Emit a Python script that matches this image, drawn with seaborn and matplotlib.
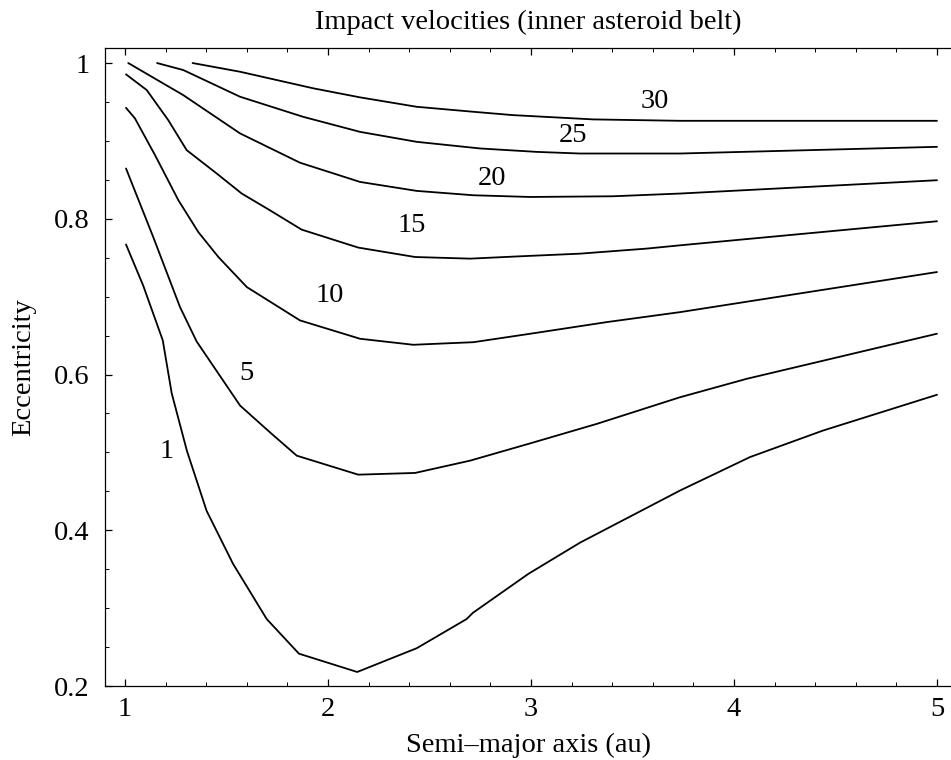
import numpy as np
import pandas as pd
import matplotlib
matplotlib.use("Agg")
import matplotlib.pyplot as plt
from matplotlib.ticker import MultipleLocator
import seaborn as sns

# ---- data ----
levels = [1, 5, 10, 15, 20, 25, 30]

a_1 = [1.005, 1.09, 1.186, 1.23, 1.305, 1.402, 1.532, 1.698, 1.857, 2.144, 2.355, 2.437, 2.683, 2.714, 2.987, 3.241, 3.734, 4.079, 4.438, 5.0]
e_1 = [0.767, 0.714, 0.644, 0.576, 0.502, 0.425, 0.357, 0.286, 0.2415, 0.218, 0.240, 0.2485, 0.286, 0.294, 0.344, 0.384, 0.451, 0.494, 0.528, 0.574]

a_5 = [1.005, 1.139, 1.271, 1.353, 1.567, 1.714, 1.846, 2.149, 2.429, 2.700, 2.987, 3.324, 3.734, 4.063, 5.0]
e_5 = [0.8646, 0.7766, 0.6866, 0.6424, 0.5601, 0.5258, 0.4958, 0.4714, 0.4736, 0.4894, 0.5109, 0.5366, 0.5708, 0.5945, 0.6524]

a_10 = [1.005, 1.049, 1.148, 1.263, 1.361, 1.460, 1.600, 1.862, 2.158, 2.420, 2.716, 2.995, 3.373, 3.734, 5.0]
e_10 = [0.9425, 0.9289, 0.8817, 0.8238, 0.7830, 0.7509, 0.7123, 0.6695, 0.6459, 0.6382, 0.6415, 0.6523, 0.6673, 0.6801, 0.7316]

a_15 = [1.005, 1.107, 1.213, 1.304, 1.452, 1.575, 1.714, 1.870, 2.010, 2.149, 2.429, 2.700, 2.946, 3.241, 3.570, 3.734, 5.0]
e_15 = [0.9855, 0.9653, 0.9267, 0.8881, 0.8581, 0.8324, 0.8109, 0.7861, 0.7745, 0.7630, 0.7509, 0.7488, 0.7518, 0.7552, 0.7617, 0.7659, 0.7968]

a_20 = [1.016, 1.287, 1.567, 1.862, 2.158, 2.437, 2.716, 2.995, 3.405, 3.734, 5.0]
e_20 = [1.0, 0.9588, 0.9096, 0.8720, 0.8473, 0.8358, 0.8302, 0.8280, 0.8289, 0.8324, 0.8495]

a_25 = [1.158, 1.287, 1.567, 1.878, 2.158, 2.437, 2.749, 3.028, 3.241, 3.734, 5.0]
e_25 = [1.0, 0.991, 0.9567, 0.9309, 0.9116, 0.8988, 0.8903, 0.8859, 0.8838, 0.8838, 0.8924]

a_30 = [1.333, 1.567, 1.928, 2.158, 2.437, 2.716, 2.911, 3.307, 3.734, 5.0]
e_30 = [1.0, 0.9888, 0.9675, 0.9559, 0.9438, 0.9374, 0.9331, 0.9276, 0.9258, 0.9258]

label_a = [1.205, 1.600, 2.010, 2.412, 2.806, 3.205, 3.611]
label_e = [0.5007, 0.601, 0.7016, 0.7916, 0.8517, 0.9074, 0.9502]

x_ticks = [1, 2, 3, 4, 5]
y_ticks = [0.2, 0.4, 0.6, 0.8, 1.0]
y_tick_labels = ["0.2", "0.4", "0.6", "0.8", "1"]

title = "Impact velocities (inner asteroid belt)"
xlabel = "Semi\u2013major axis (au)"
ylabel = "Eccentricity"

curves = {1: (a_1, e_1), 5: (a_5, e_5), 10: (a_10, e_10), 15: (a_15, e_15),
          20: (a_20, e_20), 25: (a_25, e_25), 30: (a_30, e_30)}

# ---- plotting ----
sns.set_theme(style="ticks")
plt.rcParams["font.family"] = ["Liberation Serif", "DejaVu Serif"]
plt.rcParams["text.color"] = "black"
plt.rcParams["axes.labelcolor"] = "black"
plt.rcParams["xtick.color"] = "black"
plt.rcParams["ytick.color"] = "black"

FS = 20.5

fig = plt.figure(figsize=(9.51, 7.60), dpi=100)
ax = fig.add_axes([105 / 951, 74 / 760, 846 / 951, 638 / 760])

for lev in levels:
    a, e = curves[lev]
    df = pd.DataFrame({"a": a, "e": e})
    sns.lineplot(data=df, x="a", y="e", ax=ax, sort=False, estimator=None,
                 color="black", linewidth=1.3)

for lev, xa, ye in zip(levels, label_a, label_e):
    ax.text(xa, ye, str(lev), fontsize=FS, ha="center", va="center", color="black")

ax.set_xlim(0.9015, 5.069)
ax.set_ylim(0.2, 1.0193)

ax.set_xticks(x_ticks)
ax.set_xticklabels([str(t) for t in x_ticks])
ax.set_yticks(y_ticks)
ax.set_yticklabels(y_tick_labels)
ax.xaxis.set_minor_locator(MultipleLocator(0.2))
ax.yaxis.set_minor_locator(MultipleLocator(0.05))

ax.tick_params(axis="both", which="both", direction="in", colors="black",
               labelcolor="black", top=True, right=False, labelsize=FS)
ax.tick_params(axis="both", which="major", length=5, width=0.9)
ax.tick_params(axis="both", which="minor", length=3, width=0.7)
ax.tick_params(axis="x", which="major", pad=8)
ax.tick_params(axis="y", which="major", pad=11)

for side in ["left", "bottom", "top"]:
    ax.spines[side].set_visible(True)
    ax.spines[side].set_color("black")
    ax.spines[side].set_linewidth(0.9)
ax.spines["right"].set_visible(False)

ax.set_title(title, fontsize=FS, pad=14, color="black")
ax.set_xlabel(xlabel, fontsize=FS, color="black")
ax.set_ylabel(ylabel, fontsize=FS, color="black")
ax.xaxis.set_label_coords(0.5, -0.073)
ax.yaxis.set_label_coords(-0.081, 0.5)

fig.savefig("out.png", dpi=100, facecolor="white")
